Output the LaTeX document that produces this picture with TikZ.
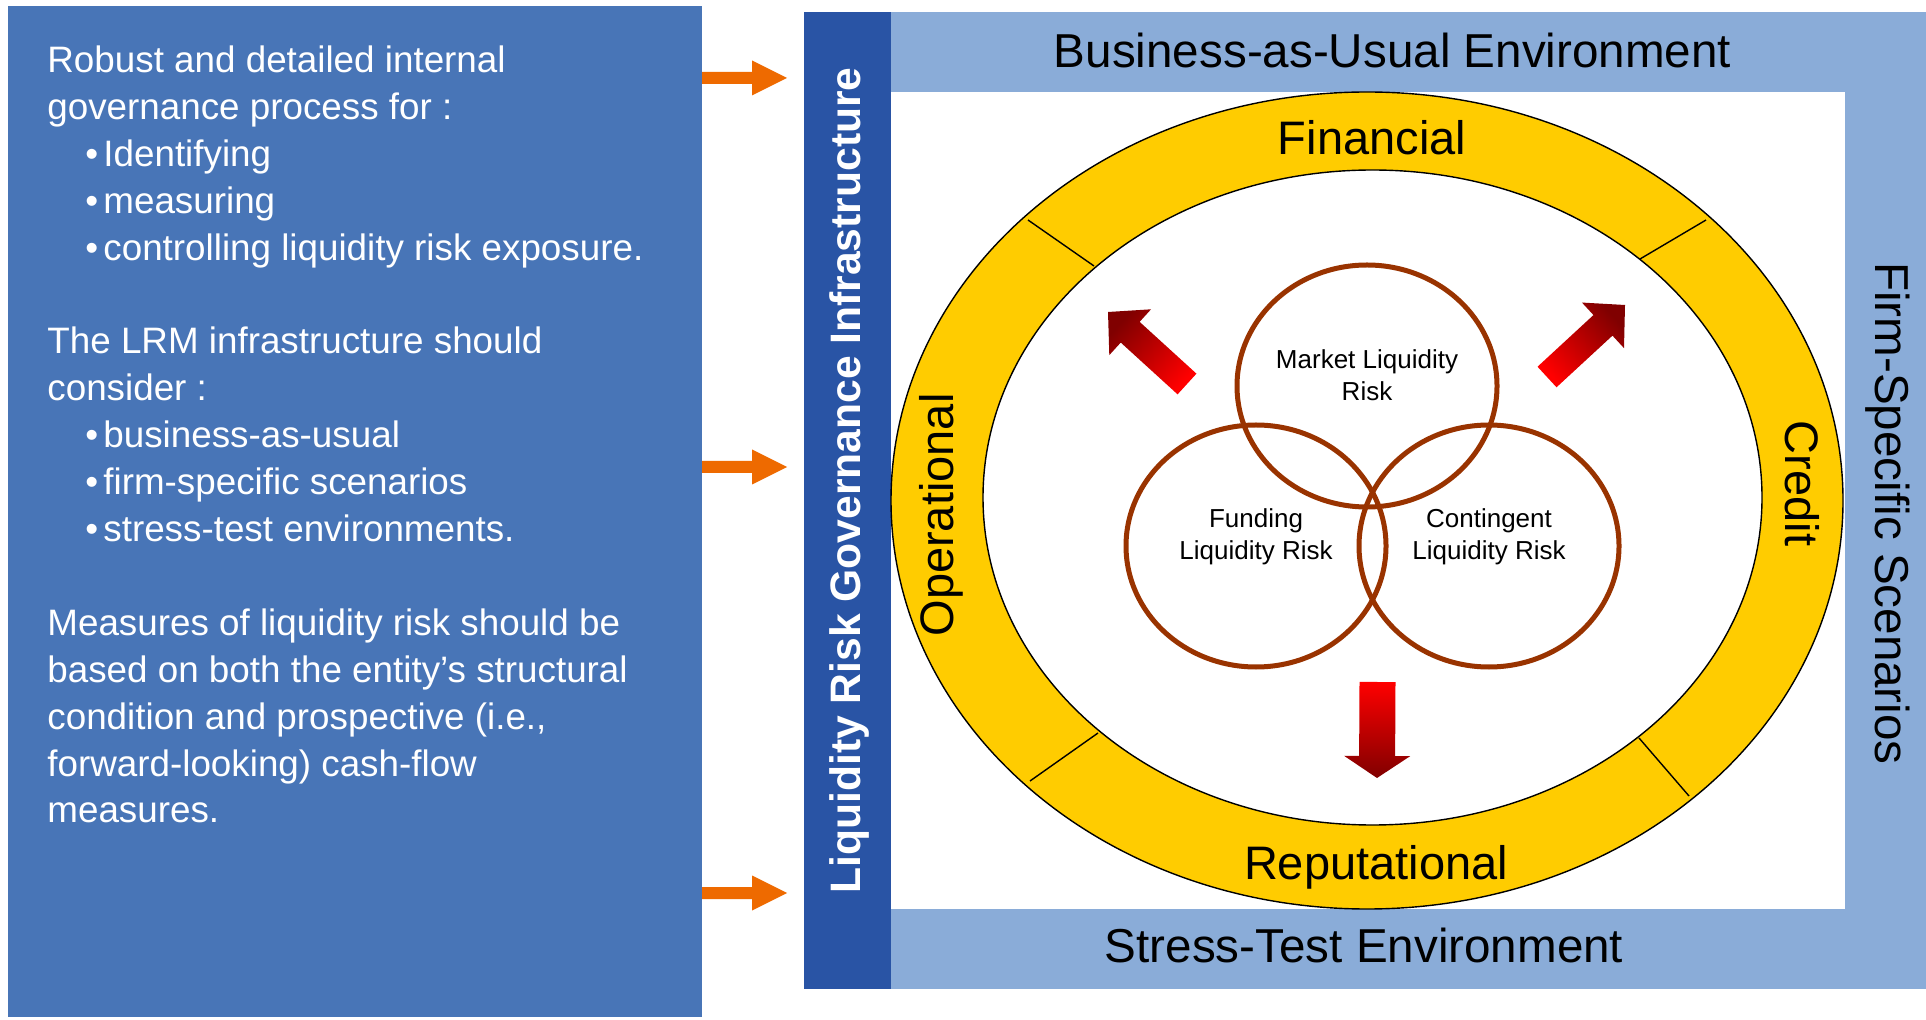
\documentclass[tikz,border=0pt]{standalone}
\usepackage{fontspec}
\setmainfont{Liberation Sans}
\usetikzlibrary{calc}
\definecolor{leftblue}{RGB}{72,117,183}
\definecolor{barblue}{RGB}{41,84,165}
\definecolor{paleblue}{RGB}{138,172,216}
\definecolor{ringyellow}{RGB}{255,204,0}
\definecolor{venbrown}{RGB}{153,51,0}
\definecolor{arrorange}{RGB}{238,106,0}
\definecolor{arrdark}{RGB}{128,0,0}
\definecolor{arrred}{RGB}{255,0,0}
% #1 style, #2 tail, #3 tip, #4 shaft half width, #5 head half width, #6 head length
\newcommand{\myblockarrow}[6]{%
  \coordinate (hb) at ($(#3)!#6!(#2)$);
  \path[#1] ($(#2)!#4!90:(#3)$) -- ($(hb)!#4!90:(#3)$) -- ($(hb)!#5!90:(#3)$) -- (#3)
     -- ($(hb)!#5!-90:(#3)$) -- ($(hb)!#4!-90:(#3)$) -- ($(#2)!#4!-90:(#3)$) -- cycle;
}
\newcommand{\myorangearrow}[1]{%
  \fill[arrorange] (702,{#1-6}) -- (752,{#1-6}) -- (752,{#1-17.5}) -- (787,#1)
     -- (752,{#1+17.5}) -- (752,{#1+6}) -- (702,{#1+6}) -- cycle;
}
\begin{document}
\begin{tikzpicture}[x=0.5pt,y=-0.5pt,
  lefttxt/.style={anchor=base west, inner sep=0pt, text=white, font=\fontsize{18.4pt}{22pt}\selectfont},
  envtxt/.style={anchor=base, inner sep=0pt, font=\fontsize{23.8pt}{28pt}\selectfont},
  ringtxt/.style={anchor=base, inner sep=0pt, font=\fontsize{23.5pt}{28pt}\selectfont},
  venntxt/.style={align=center, inner sep=0pt, font=\fontsize{13pt}{15.75pt}\selectfont},
  venncirc/.style={draw=venbrown, line width=2.5pt},
  divline/.style={draw=black, line width=0.7pt},
]
\useasboundingbox (0,0) rectangle (1926,1020);
\fill[white] (0,0) rectangle (1926,1020);

% left panel
\fill[leftblue] (8,6) rectangle (702,1017);
\def\bx{85}\def\tx{103}
\node[lefttxt] (l1) at (47,72.5) {Robust and detailed internal};
\node[lefttxt] (l2) at (47,119.4) {governance process for :};
\node[lefttxt] (b3) at (\bx,166.3) {•};
\node[lefttxt] (l3) at (\tx,166.3) {Identifying};
\node[lefttxt] (b4) at (\bx,213.2) {•};
\node[lefttxt] (l4) at (\tx,213.2) {measuring};
\node[lefttxt] (b5) at (\bx,260.1) {•};
\node[lefttxt] (l5) at (\tx,260.1) {controlling liquidity risk exposure.};
\node[lefttxt] (l6) at (47,353.9) {The LRM infrastructure should};
\node[lefttxt] (l7) at (47,400.8) {consider :};
\node[lefttxt] (b8) at (\bx,447.7) {•};
\node[lefttxt] (l8) at (\tx,447.7) {business-as-usual};
\node[lefttxt] (b9) at (\bx,494.6) {•};
\node[lefttxt] (l9) at (\tx,494.6) {firm-specific scenarios};
\node[lefttxt] (b10) at (\bx,541.5) {•};
\node[lefttxt] (l10) at (\tx,541.5) {stress-test environments.};
\node[lefttxt] (l11) at (47,635.3) {Measures of liquidity risk should be};
\node[lefttxt] (l12) at (47,682.2) {based on both the entity’s structural};
\node[lefttxt] (l13) at (47,729.1) {condition and prospective (i.e.,};
\node[lefttxt] (l14) at (47,776) {forward-looking) cash-flow};
\node[lefttxt] (l15) at (47,822.9) {measures.};

% orange arrows
\myorangearrow{78}
\myorangearrow{467}
\myorangearrow{893}

% frame
\fill[barblue] (804,12) rectangle (891,989);
\fill[paleblue] (891,12) rectangle (1926,989);
\fill[white] (891,92) rectangle (1845,909);

\node[anchor=base, inner sep=0pt, rotate=90, text=white, font=\bfseries\fontsize{21.3pt}{26pt}\selectfont] (gov) at (860,480.5) {Liquidity Risk Governance Infrastructure};
\node[envtxt] (bau) at (1392.5,68) {Business-as-Usual Environment};
\node[envtxt] (ste) at (1364,962) {Stress-Test Environment};
\node[envtxt, rotate=-90] (fss) at (1875,513.5) {Firm-Specific Scenarios};

% ring
\path[fill=ringyellow, even odd rule, draw=black, line width=0.7pt]
  (1367,500.5) ellipse [x radius=476, y radius=408.5]
  (1372.5,497.5) ellipse [x radius=389.5, y radius=327.5];
\draw[divline] (1028,220) -- (1094,266);
\draw[divline] (1706,220) -- (1640,259);
\draw[divline] (1098,733) -- (1030,781);
\draw[divline] (1639,738) -- (1689,796);
\node[ringtxt] (fin) at (1372,155) {Financial};
\node[ringtxt] (rep) at (1376,879) {Reputational};
\node[ringtxt, rotate=90] (opr) at (953,515) {Operational};
\node[ringtxt, rotate=-90] (cre) at (1785,483.5) {Credit};

% venn
\draw[venncirc] (1367,386) ellipse [x radius=130, y radius=121];
\draw[venncirc] (1256,546) ellipse [x radius=130, y radius=121];
\draw[venncirc] (1489,546) ellipse [x radius=130, y radius=121];
\node[venntxt] (mkt) at (1367,375) {Market Liquidity\\Risk};
\node[venntxt] (fnd) at (1256,537) {Funding\\Liquidity Risk};
\node[venntxt] (cnt) at (1489,537) {Contingent\\Liquidity Risk};

% red arrows
\coordinate (t1) at (1187,384); \coordinate (p1) at (1108,312);
\coordinate (t2) at (1547,377); \coordinate (p2) at (1625,305);
\coordinate (t3) at (1377.5,682); \coordinate (p3) at (1377,778);
\myblockarrow{top color=arrdark, bottom color=arrred, shading angle=47.7}{t1}{p1}{7pt}{15.5pt}{15pt}
\myblockarrow{top color=arrdark, bottom color=arrred, shading angle=-47.3}{t2}{p2}{7pt}{15.5pt}{15pt}
\myblockarrow{top color=arrred, bottom color=arrdark}{t3}{p3}{9pt}{16.5pt}{11pt}
\end{tikzpicture}
\end{document}
